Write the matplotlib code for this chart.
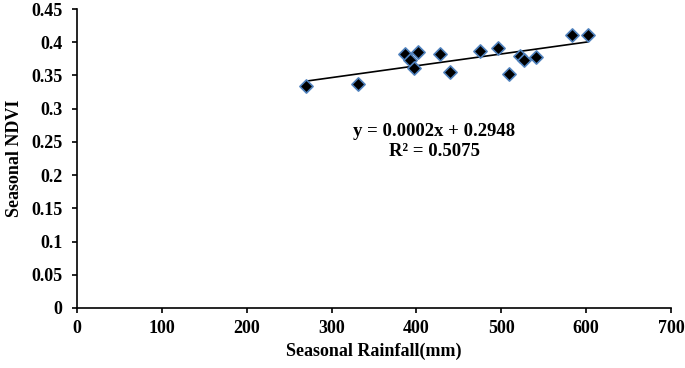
import matplotlib
matplotlib.use("Agg")
import matplotlib.pyplot as plt
import numpy as np

rainfall = [270, 331, 386, 392.7, 396.6, 401.7, 427.3, 439, 475.3, 495.7, 509, 522.5, 526.8, 540.9, 583.4, 601.6]
ndvi = [0.334, 0.337, 0.382, 0.3735, 0.361, 0.385, 0.382, 0.355, 0.387, 0.392, 0.352, 0.380, 0.3725, 0.378, 0.411, 0.411]
xticks = [0, 100, 200, 300, 400, 500, 600, 700]
yticks = [0, 0.05, 0.1, 0.15, 0.2, 0.25, 0.3, 0.35, 0.4, 0.45]

plt.rcParams['font.family'] = ['Liberation Serif', 'DejaVu Serif']
plt.rcParams['font.weight'] = 'bold'

fig = plt.figure(figsize=(6.85, 3.68), dpi=100)
ax = fig.add_axes([77/685, 1-308/368, (671-77)/685, (308-9)/368])

x = np.array(rainfall); y = np.array(ndvi)
m, b = np.polyfit(x, y, 1)
xl = np.array([x.min(), x.max()])
ax.plot(xl, m*xl + b, color='black', lw=1.2, zorder=2)
ax.scatter(x, y, marker='D', s=45, facecolor='black', edgecolor='#4f81bd', linewidth=1.2, zorder=3)

ax.text(421, 0.2653, 'y = 0.0002x + 0.2948', ha='center', va='center', fontsize=13.5, fontweight='bold')
ax.text(421, 0.2352, 'R² = 0.5075', ha='center', va='center', fontsize=13.5, fontweight='bold')

ax.set_xlim(0, 700)
ax.set_ylim(0, 0.45)
ax.set_xticks(xticks)
ax.set_xticklabels([str(t) for t in xticks])
ax.set_yticks(yticks)
ax.set_yticklabels(['0', '0.05', '0.1', '0.15', '0.2', '0.25', '0.3', '0.35', '0.4', '0.45'])
ax.spines['top'].set_visible(False)
ax.spines['right'].set_visible(False)
for s in ['left', 'bottom']:
    ax.spines[s].set_linewidth(1.2)
ax.tick_params(direction='out', length=3.6, width=1.2, labelsize=13)
ax.tick_params(axis='x', pad=5)
ax.tick_params(axis='y', pad=7)
ax.set_xlabel('Seasonal Rainfall(mm)', fontsize=13, fontweight='bold', labelpad=4)
ax.set_ylabel('Seasonal NDVI', fontsize=13, fontweight='bold', labelpad=6)

fig.savefig('out.png', dpi=100)
